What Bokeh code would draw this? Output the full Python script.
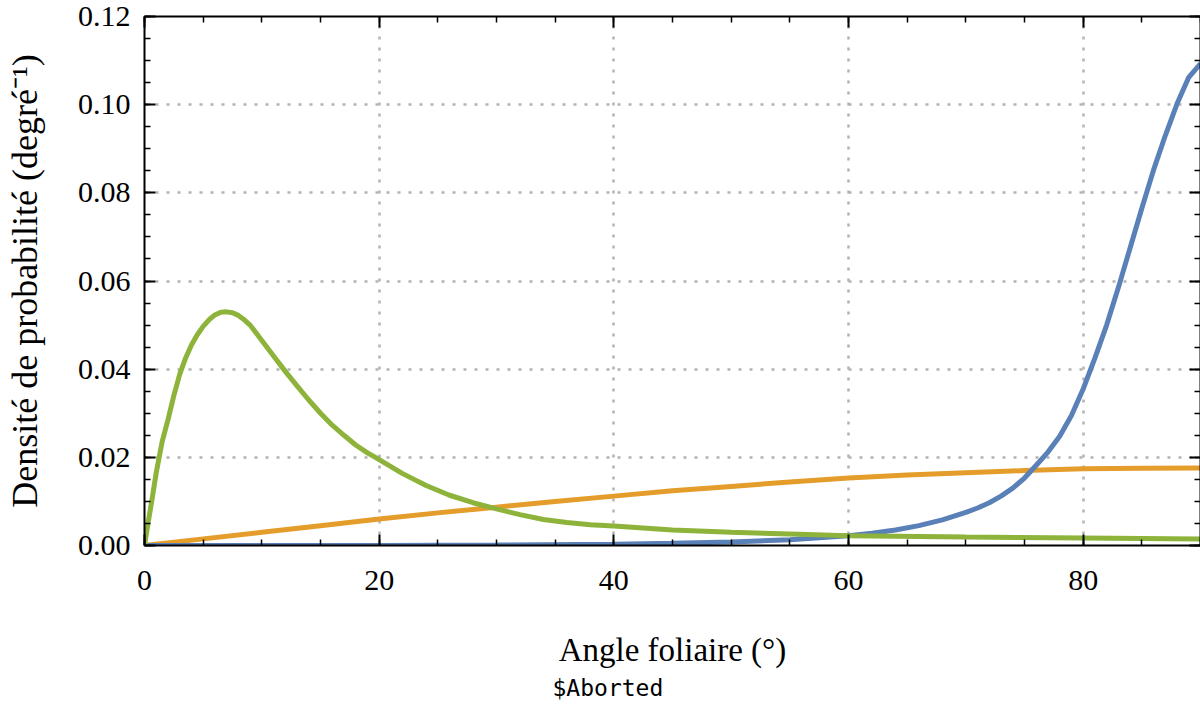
from bokeh.plotting import figure
from bokeh.models import Range1d, SingleIntervalTicker, LinearAxis, PrintfTickFormatter, Title, CustomJSTickFormatter
from bokeh.embed import file_html
from bokeh.resources import INLINE

# ---- data ----
angle_orange = [0, 5, 10, 15, 20, 25, 30, 35, 40, 45, 50, 55, 60, 65, 70, 75, 80, 85, 90]
density_orange = [0.0, 0.0015, 0.0030, 0.0045, 0.0060, 0.0074, 0.0087, 0.0100, 0.0112,
                  0.0124, 0.0134, 0.0144, 0.0153, 0.0160, 0.0165, 0.0170, 0.0174, 0.0175, 0.0176]

angle_blue = [0, 10, 20, 30, 40, 45, 50, 55, 60, 62, 64, 66, 68, 70, 71, 72, 73, 74, 75, 76, 77,
              78, 79, 80, 81, 82, 83, 84, 85, 86, 87, 88, 89, 90]
density_blue = [0.0, 0.0, 0.00002, 0.0001, 0.0003, 0.0005, 0.0008, 0.0013, 0.0022, 0.0028,
                0.0035, 0.0045, 0.0058, 0.0075, 0.0085, 0.0097, 0.0112, 0.0130, 0.0153, 0.0182,
                0.0212, 0.0248, 0.0295, 0.0355, 0.0425, 0.0500, 0.0585, 0.0675, 0.0765, 0.0852,
                0.0930, 0.1002, 0.1062, 0.1093]

angle_green = [0, 0.3, 0.6, 1.0, 1.5, 2.0, 2.5, 3.0, 3.5, 4.0, 4.5, 5.0, 5.5, 6.0, 6.5, 7.0,
               7.5, 8.0, 8.5, 9.0, 10, 11, 12, 13, 14, 15, 16, 17, 18, 19, 20, 22, 24, 26, 28,
               30, 32, 34, 36, 38, 40, 45, 50, 55, 60, 70, 80, 90]
density_green = [0.0, 0.0050, 0.0098, 0.0165, 0.0235, 0.0285, 0.0340, 0.0388, 0.0425, 0.0455,
                 0.0478, 0.0497, 0.0512, 0.0523, 0.0529, 0.0530, 0.0528, 0.0522, 0.0512, 0.0500,
                 0.0465, 0.0430, 0.0395, 0.0362, 0.0330, 0.0300, 0.0273, 0.0250, 0.0228, 0.0210,
                 0.0195, 0.0163, 0.0136, 0.0114, 0.0097, 0.0083, 0.0070, 0.0059, 0.0052, 0.0047,
                 0.0044, 0.0035, 0.0030, 0.0026, 0.0022, 0.0019, 0.0017, 0.0015]

x_label = "Angle foliaire (°)"
y_label = "Densité de probabilité (degré⁻¹)"
footer_text = "$Aborted"

SERIF = "Liberation Serif"
BLUE = "#5a80b8"
ORANGE = "#e49d2a"
GREEN = "#8db33a"

p = figure(width=1200, height=702, output_backend="svg", toolbar_location=None,
           x_range=Range1d(0, 90), y_range=Range1d(0, 0.12),
           min_border_left=144, min_border_top=16, min_border_right=0, min_border_bottom=156)
p.outline_line_color = None
p.background_fill_color = "white"
p.border_fill_color = "white"

p.line(angle_orange, density_orange, line_color=ORANGE, line_width=5)
p.line(angle_blue, density_blue, line_color=BLUE, line_width=5)
p.line(angle_green, density_green, line_color=GREEN, line_width=5)

xt = SingleIntervalTicker(interval=20, num_minor_ticks=4)
yt = SingleIntervalTicker(interval=0.02, num_minor_ticks=4)

def style_axis(ax, show_labels):
    ax.axis_line_color = "black"
    ax.axis_line_width = 2
    ax.major_tick_line_color = "black"
    ax.major_tick_line_width = 2
    ax.minor_tick_line_color = "black"
    ax.minor_tick_line_width = 1.5
    ax.major_tick_in = 11
    ax.major_tick_out = 0
    ax.minor_tick_in = 6
    ax.minor_tick_out = 0
    if not show_labels:
        ax.major_label_text_font_size = "0px"
        ax.major_label_standoff = 0
        ax.formatter = CustomJSTickFormatter(code="return ''")

xa = p.xaxis[0]
xa.ticker = xt
style_axis(xa, True)
xa.major_label_text_font = SERIF
xa.major_label_text_font_size = "30px"
xa.major_label_text_color = "black"
xa.major_label_standoff = 25
xa.axis_label = x_label
xa.axis_label_text_font = SERIF
xa.axis_label_text_font_size = "33px"
xa.axis_label_text_font_style = "normal"
xa.axis_label_text_color = "black"
xa.axis_label_standoff = 39

ya = p.yaxis[0]
ya.ticker = yt
style_axis(ya, True)
ya.formatter = PrintfTickFormatter(format="%.2f")
ya.major_label_text_font = SERIF
ya.major_label_text_font_size = "30px"
ya.major_label_text_color = "black"
ya.major_label_standoff = 14
ya.axis_label = y_label
ya.axis_label_text_font = SERIF
ya.axis_label_text_font_size = "36px"
ya.axis_label_text_font_style = "normal"
ya.axis_label_text_color = "black"
ya.axis_label_standoff = 30

top = LinearAxis(ticker=SingleIntervalTicker(interval=20, num_minor_ticks=4))
style_axis(top, False)
p.add_layout(top, "above")
right = LinearAxis(ticker=SingleIntervalTicker(interval=0.02, num_minor_ticks=4))
style_axis(right, False)
p.add_layout(right, "right")

for g in (p.xgrid[0], p.ygrid[0]):
    g.grid_line_color = "#b3b3b3"
    g.grid_line_width = 2.5
    g.grid_line_dash = "3 8"
p.xgrid[0].ticker = xt
p.ygrid[0].ticker = yt

p.add_layout(Title(text=footer_text, align="left", offset=408, text_font="DejaVu Sans Mono",
                   text_font_size="23px", text_font_style="normal", text_color="black",
                   standoff=4), "below")

open("out.html", "w").write(file_html(p, INLINE))
